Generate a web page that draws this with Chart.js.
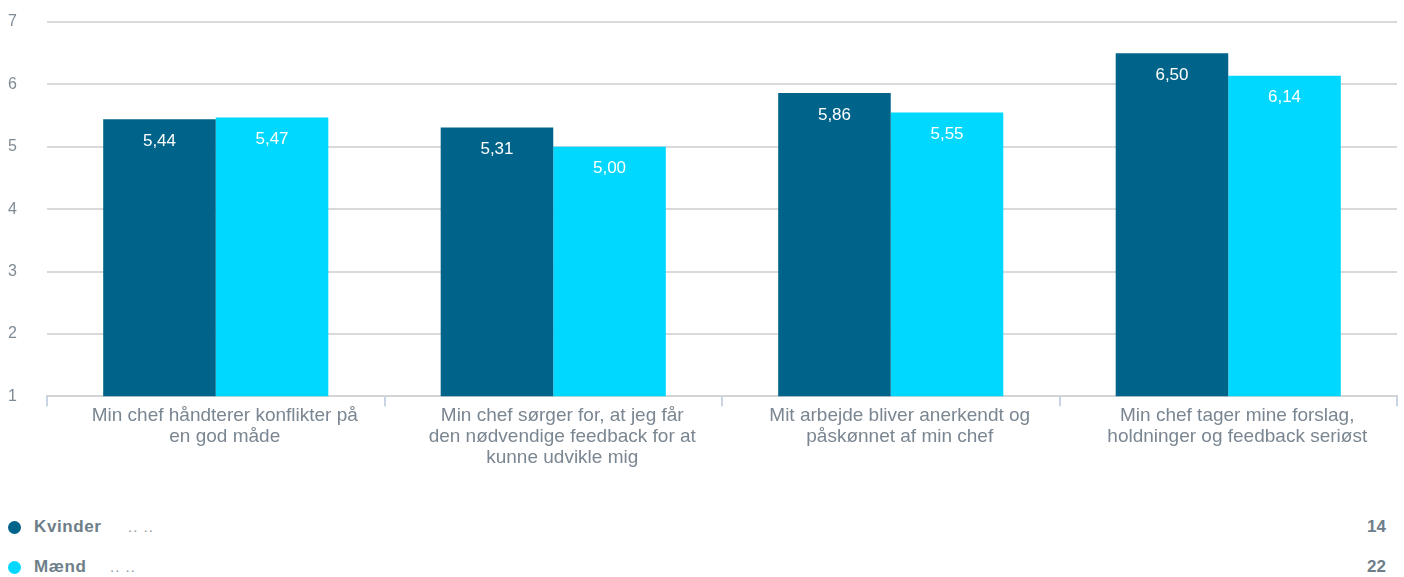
<!DOCTYPE html>
<html>
<head>
<meta charset="utf-8">
<script src="https://cdn.jsdelivr.net/npm/chart.js@4/dist/chart.umd.min.js"></script>
<style>
  body { margin: 0; background: #fff; font-family: "Liberation Sans", Arial, sans-serif; }
  #wrap { position: relative; width: 1404px; height: 577px; }
  #chartBox { position: absolute; left: 0; top: 0; width: 1404px; height: 472px; }
  .leg { position: absolute; left: 8px; width: 1378px; height: 20px; line-height: 20px; font-size: 17px; color: #6e7e89; }
  .leg .dot { position: absolute; left: 0; top: 4px; width: 13px; height: 13px; border-radius: 50%; }
  .leg .name { position: absolute; left: 26px; top: 0; font-weight: bold; letter-spacing: 0.6px; }
  .leg .dots { position: absolute; top: 0; color: #8e99a2; font-size: 15px; letter-spacing: 1px; }
  .leg .n { position: absolute; right: 0; top: 0; font-weight: bold; }
</style>
</head>
<body>
<div id="wrap">
  <div id="chartBox"><canvas id="barChart"></canvas></div>
  <div id="legendBox"></div>
</div>
<script>
const categories = [
    ['Min chef håndterer konflikter på', 'en god måde'],
    ['Min chef sørger for, at jeg får', 'den nødvendige feedback for at', 'kunne udvikle mig'],
    ['Mit arbejde bliver anerkendt og', 'påskønnet af min chef'],
    ['Min chef tager mine forslag,', 'holdninger og feedback seriøst']
];
const kvinder = [5.44, 5.31, 5.86, 6.50];
const maend = [5.47, 5.00, 5.55, 6.14];
const seriesNames = ['Kvinder', 'Mænd'];
const seriesCounts = [14, 22];
const seriesColors = ['#00648a', '#00d8ff'];

const fontFamily = '"Liberation Sans", Arial, sans-serif';

const valueLabels = {
    id: 'valueLabels',
    afterDatasetsDraw(chart) {
        const ctx = chart.ctx;
        ctx.save();
        ctx.fillStyle = '#ffffff';
        ctx.font = '17px ' + fontFamily;
        ctx.textAlign = 'center';
        ctx.textBaseline = 'middle';
        chart.data.datasets.forEach((ds, i) => {
            chart.getDatasetMeta(i).data.forEach((bar, j) => {
                ctx.fillText(ds.data[j].toFixed(2).replace('.', ','), bar.x, bar.y + 22);
            });
        });
        ctx.restore();
    }
};

const ctx = document.getElementById('barChart').getContext('2d');
new Chart(ctx, {
    type: 'bar',
    data: {
        labels: categories,
        datasets: [
            { label: seriesNames[0], data: kvinder, backgroundColor: seriesColors[0] },
            { label: seriesNames[1], data: maend, backgroundColor: seriesColors[1] }
        ]
    },
    options: {
        responsive: true,
        maintainAspectRatio: false,
        animation: false,
        categoryPercentage: 0.667,
        barPercentage: 1,
        layout: { padding: { top: 22, right: 7, left: 8, bottom: 5 } },
        plugins: {
            legend: { display: false },
            tooltip: { enabled: false }
        },
        scales: {
            x: {
                grid: {
                    offset: true,
                    drawOnChartArea: false,
                    drawTicks: true,
                    tickLength: 10,
                    color: '#c9d5e3',
                    lineWidth: 2
                },
                border: { color: '#d4d4d4', width: 2 },
                ticks: {
                    color: '#7a8691',
                    font: { size: 19, family: fontFamily, lineHeight: 1.1 },
                    padding: -1,
                    labelOffset: 9,
                    maxRotation: 0
                }
            },
            y: {
                min: 1,
                max: 7,
                afterFit: (scale) => { scale.width = 39; },
                ticks: {
                    stepSize: 1,
                    color: '#7f8b96',
                    font: { size: 16, family: fontFamily },
                    padding: 0,
                    crossAlign: 'far'
                },
                grid: {
                    color: '#d9d9d9',
                    lineWidth: 2,
                    drawTicks: false
                },
                border: { display: false }
            }
        }
    },
    plugins: [valueLabels]
});

const legendBox = document.getElementById('legendBox');
const legendTops = [517, 557];
seriesNames.forEach((name, i) => {
    const row = document.createElement('div');
    row.className = 'leg';
    row.style.top = legendTops[i] + 'px';
    const dotsLeft = i === 0 ? 120 : 102;
    row.innerHTML = '<span class="dot" style="background:' + seriesColors[i] + '"></span>' +
        '<span class="name">' + name + '</span>' +
        '<span class="dots" style="left:' + dotsLeft + 'px">.. ..</span>' +
        '<span class="n">' + seriesCounts[i] + '</span>';
    legendBox.appendChild(row);
});
</script>
</body>
</html>
